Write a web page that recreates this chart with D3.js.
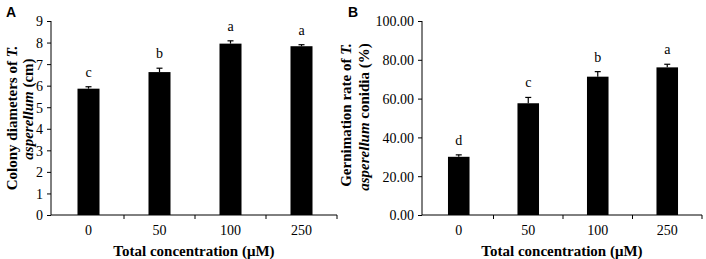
<!DOCTYPE html>
<html>
<head>
<meta charset="utf-8">
<script src="https://cdn.jsdelivr.net/npm/d3@7"></script>
<style>
  body { margin: 0; background: #fff; }
  svg { display: block; }
  text { font-family: "Liberation Serif", "Times New Roman", serif; fill: #000; }
  .panel-letter { font-family: "Liberation Sans", Arial, sans-serif; font-weight: bold; font-size: 14px; }
  .axis-title { font-weight: bold; font-size: 15px; }
  .tick text { font-size: 14px; }
  .sig { font-size: 14px; }
</style>
</head>
<body>
<svg id="chart" width="706" height="259"></svg>
<script>
// data
var concentrations = ["0", "50", "100", "250"];

var diameter_values = [5.86, 6.63, 7.95, 7.83];
var diameter_errors = [0.09, 0.18, 0.13, 0.07];
var diameter_letters = ["c", "b", "a", "a"];
var diameter_ticks = [0, 1, 2, 3, 4, 5, 6, 7, 8, 9];

var germination_values = [30.0, 57.6, 71.3, 76.1];
var germination_errors = [1.0, 3.0, 2.6, 1.6];
var germination_letters = ["d", "c", "b", "a"];
var germination_ticks = [0, 20, 40, 60, 80, 100];

var svg = d3.select("#chart");

function draw_panel(opt) {
  var g = svg.append("g");

  var x = d3.scaleBand()
    .domain(concentrations)
    .range([opt.left + 2, opt.right]);

  var y = d3.scaleLinear()
    .domain([0, opt.ymax])
    .range([215, 21]);

  var bar_w = x.bandwidth() * 0.31;

  // y axis
  var yaxis = g.append("g")
    .attr("transform", "translate(" + opt.left + ",0)")
    .call(d3.axisLeft(y)
      .tickValues(opt.ticks)
      .tickSize(4)
      .tickPadding(4)
      .tickFormat(opt.fmt));
  yaxis.select(".domain").attr("d", "M0," + y(opt.ymax) + "V" + y(0));
  yaxis.selectAll(".tick text").attr("dy", "0.35em");

  // x axis, labels only, ticks sit between the categories
  var xaxis = g.append("g")
    .attr("transform", "translate(0," + y(0) + ")")
    .call(d3.axisBottom(x).tickSize(0).tickPadding(10));
  xaxis.select(".domain").attr("d", "M" + opt.left + ",0H" + opt.right);

  xaxis.selectAll("line.sep")
    .data(concentrations)
    .enter().append("line")
    .attr("class", "sep")
    .attr("x1", function(d) { return x(d) + x.step(); })
    .attr("x2", function(d) { return x(d) + x.step(); })
    .attr("y1", 0)
    .attr("y2", 4)
    .attr("stroke", "#000");

  g.selectAll(".domain").attr("stroke", "#000");

  // bars
  g.selectAll("rect.bar")
    .data(opt.values)
    .enter().append("rect")
    .attr("class", "bar")
    .attr("x", function(d, i) { return x(concentrations[i]) + x.bandwidth() / 2 - bar_w / 2; })
    .attr("y", function(d) { return y(d); })
    .attr("width", bar_w)
    .attr("height", function(d) { return y(0) - y(d); })
    .attr("fill", "#000");

  // error bars (upper half only shows above the bar)
  var err = g.selectAll("g.err")
    .data(opt.values)
    .enter().append("g")
    .attr("class", "err")
    .attr("transform", function(d, i) { return "translate(" + (x(concentrations[i]) + x.bandwidth() / 2) + ",0)"; });

  err.append("line")
    .attr("x1", 0).attr("x2", 0)
    .attr("y1", function(d) { return y(d); })
    .attr("y2", function(d, i) { return y(d + opt.errors[i]); })
    .attr("stroke", "#000")
    .attr("stroke-width", 1.2);

  err.append("line")
    .attr("x1", -3).attr("x2", 3)
    .attr("y1", function(d, i) { return y(d + opt.errors[i]); })
    .attr("y2", function(d, i) { return y(d + opt.errors[i]); })
    .attr("stroke", "#000")
    .attr("stroke-width", 1.2);

  err.append("text")
    .attr("class", "sig")
    .attr("text-anchor", "middle")
    .attr("y", function(d, i) { return y(d + opt.errors[i]) - 10; })
    .text(function(d, i) { return opt.letters[i]; });

  // x title
  g.append("text")
    .attr("class", "axis-title")
    .attr("text-anchor", "middle")
    .attr("x", (opt.left + opt.right) / 2)
    .attr("y", 256)
    .text("Total concentration (\u03bcM)");

  // y title, two lines
  var t1 = g.append("text")
    .attr("class", "axis-title")
    .attr("text-anchor", "middle")
    .attr("transform", "translate(" + opt.title_x[0] + "," + opt.title_y[0] + ") rotate(-90)");
  t1.append("tspan").text(opt.title1);
  t1.append("tspan").attr("font-style", "italic").text("T.");

  var t2 = g.append("text")
    .attr("class", "axis-title")
    .attr("text-anchor", "middle")
    .attr("transform", "translate(" + opt.title_x[1] + "," + opt.title_y[1] + ") rotate(-90)");
  t2.append("tspan").attr("font-style", "italic").text("asperellum");
  t2.append("tspan").text(opt.title2);

  g.append("text")
    .attr("class", "panel-letter")
    .attr("x", opt.letter_x)
    .attr("y", 17)
    .text(opt.letter);
}

draw_panel({
  left: 51, right: 337, ymax: 9,
  ticks: diameter_ticks, fmt: d3.format("d"),
  values: diameter_values, errors: diameter_errors, letters: diameter_letters,
  title1: "Colony diameters of ", title2: " (cm)",
  title_x: [17, 33], title_y: [118, 109],
  letter: "A", letter_x: 6
});

draw_panel({
  left: 422, right: 702, ymax: 100,
  ticks: germination_ticks, fmt: d3.format(".2f"),
  values: germination_values, errors: germination_errors, letters: germination_letters,
  title1: "Gernimation rate of ", title2: " conidia (%)",
  title_x: [351, 369], title_y: [115, 117],
  letter: "B", letter_x: 348
});
</script>
</body>
</html>
